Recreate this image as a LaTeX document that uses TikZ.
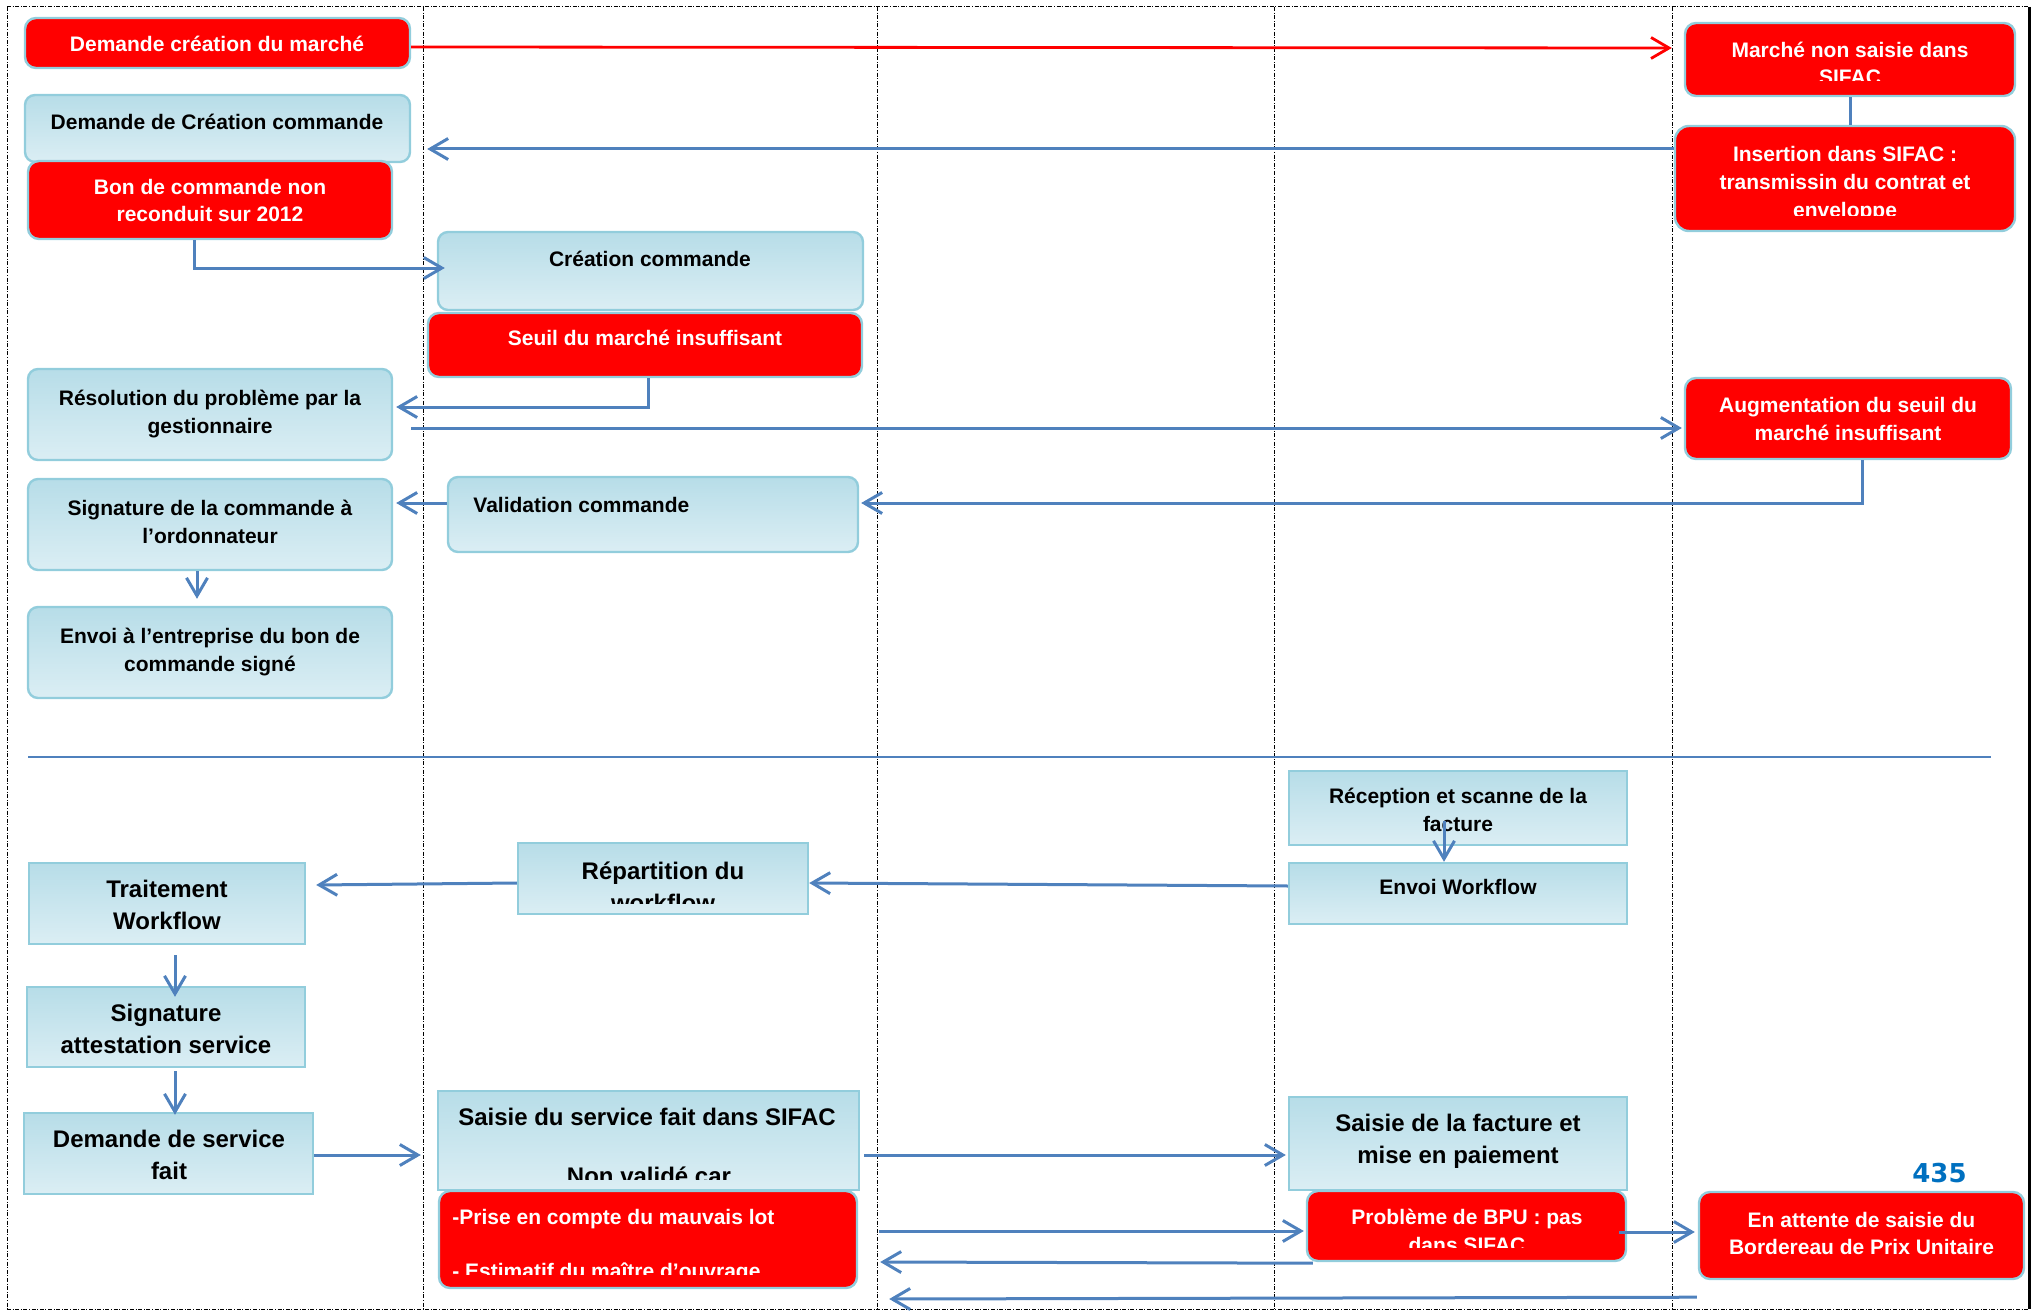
\documentclass[tikz,border=0pt]{standalone}
\usepackage{fontspec}
\setmainfont{Liberation Sans}
\newfontfamily\digitfont{DejaVu Sans}
\usetikzlibrary{arrows.meta,calc,fit}
\definecolor{lbtop}{RGB}{183,221,232}
\definecolor{lbbot}{RGB}{219,238,244}
\definecolor{bordblue}{RGB}{146,205,220}
\definecolor{boxred}{RGB}{255,0,0}
\definecolor{arrblue}{RGB}{79,129,189}
\definecolor{numblue}{RGB}{0,112,192}

\begin{document}
\begin{tikzpicture}[x=0.5pt,y=-0.5pt,
  lbbox/.style={draw=bordblue, line width=1.2pt, top color=lbtop, bottom color=lbbot, inner sep=0pt},
  lbround/.style={lbbox, rounded corners=5pt},
  redbox/.style={draw=bordblue, line width=1.2pt, fill=boxred, rounded corners=5.5pt, inner sep=0pt},
  tsm/.style={font=\bfseries\fontsize{10.5}{14}\selectfont, anchor=base, inner sep=0pt},
  tlg/.style={font=\bfseries\fontsize{12}{16}\selectfont, anchor=base, inner sep=0pt},
  wt/.style={text=white},
  arr/.style={draw=arrblue, line width=1.5pt, -{Straight Barb[length=9pt,width=10.5pt]}},
  conn/.style={draw=arrblue, line width=1.5pt},
  redarr/.style={draw=boxred, line width=1.4pt, -{Straight Barb[length=9pt,width=10.5pt]}},
  lane/.style={black, line width=0.5pt, dash pattern=on 2pt off 0.8pt on 0.5pt off 0.8pt},
]
\useasboundingbox (0,0) rectangle (2036,1311);

% frame and swim lanes
\draw[lane] (7,7) -- (2029,7);
\draw[lane] (7,1309) -- (2029,1309);
\draw[lane] (7,7) -- (7,1309);
\foreach \lx in {423,877,1274,1672} \draw[lane] (\lx,7) -- (\lx,1309);
\draw[black, line width=1.5pt] (2029,7) -- (2029,1309);

% separator between the two phases
\draw[arrblue, line width=1pt] (28,757) -- (1991,757);

% ---- boxes, upper phase
\node[redbox, fit={(25,18) (410,68)}] (b1) {};
\node[redbox, fit={(1685,23) (2015,96)}] (b2) {};
\node[redbox, rounded corners=7pt, fit={(1675,126) (2015,231)}] (b3) {};
\node[lbround, fit={(25,95) (410,162)}] (b4) {};
\node[redbox, fit={(28,161) (392,239)}] (b5) {};
\node[lbround, fit={(438,232) (863,310)}] (b6) {};
\node[redbox, fit={(428,313) (862,377)}] (b7) {};
\node[lbround, fit={(28,369) (392,460)}] (b8) {};
\node[redbox, fit={(1685,378) (2011,459)}] (b9) {};
\node[lbround, fit={(448,477) (858,552)}] (b10) {};
\node[lbround, fit={(28,479) (392,570)}] (b11) {};
\node[lbround, fit={(28,607) (392,698)}] (b12) {};

% ---- boxes, lower phase
\node[lbbox, fit={(1289,771) (1627,845)}] (b13) {};
\node[lbbox, fit={(1289,863) (1627,924)}] (b14) {};
\node[lbbox, fit={(518,843) (808,914)}] (b15) {};
\node[lbbox, fit={(29,863) (305,944)}] (b16) {};
\node[lbbox, fit={(27,987) (305,1067)}] (b17) {};
\node[lbbox, fit={(24,1113) (313,1194)}] (b18) {};
\node[lbbox, fit={(438,1091) (859,1190)}] (b19) {};
\node[redbox, fit={(439,1191) (857,1288)}] (b20) {};
\node[lbbox, fit={(1289,1097) (1627,1190)}] (b21) {};
\node[redbox, fit={(1307,1191) (1626,1261)}] (b22) {};
\node[redbox, fit={(1699,1192) (2024,1279)}] (b23) {};

% ---- texts, upper phase
\node[tsm,wt] (t1) at (217,51.5) {Demande création du marché};
\node[tsm,wt] (t2a) at (1850,58) {Marché non saisie dans};
\begin{scope}
  \clip (1685,23) rectangle (2015,81);
  \node[tsm,wt] (t2b) at (1850,85) {SIFAC};
\end{scope}
\node[tsm,wt] (t3a) at (1845,161.5) {Insertion dans SIFAC :};
\node[tsm,wt] (t3b) at (1845,189.5) {transmissin du contrat et};
\begin{scope}
  \clip (1675,126) rectangle (2015,215);
  \node[tsm,wt] (t3c) at (1845,218) {enveloppe};
\end{scope}
\node[tsm] (t4) at (217,129.5) {Demande de Création commande};
\node[tsm,wt] (t5a) at (210,194.5) {Bon de commande non};
\node[tsm,wt] (t5b) at (210,221.5) {reconduit sur 2012};
\node[tsm] (t6) at (650,266.5) {Création commande};
\node[tsm,wt] (t7) at (645,345.5) {Seuil du marché insuffisant};
\node[tsm] (t8a) at (210,405.5) {Résolution du problème par la};
\node[tsm] (t8b) at (210,433.5) {gestionnaire};
\node[tsm,wt] (t9a) at (1848,412) {Augmentation du seuil du};
\node[tsm,wt] (t9b) at (1848,440) {marché insuffisant};
\node[tsm,anchor=base west] (t10) at (473,512.5) {Validation commande};
\node[tsm] (t11a) at (210,515.5) {Signature de la commande à};
\node[tsm] (t11b) at (210,543.5) {l’ordonnateur};
\node[tsm] (t12a) at (210,643.5) {Envoi à l’entreprise du bon de};
\node[tsm] (t12b) at (210,671.5) {commande signé};

% ---- texts, lower phase
\node[tsm] (t13a) at (1458,803.5) {Réception et scanne de la};
\node[tsm] (t13b) at (1458,831.5) {facture};
\node[tsm] (t14) at (1458,894.5) {Envoi Workflow};
\node[tlg] (t15a) at (663,879) {Répartition du};
\begin{scope}
  \clip (518,843) rectangle (808,903);
  \node[tlg] (t15b) at (663,911) {workflow};
\end{scope}
\node[tlg] (t16a) at (167,897.5) {Traitement};
\node[tlg] (t16b) at (167,929.5) {Workflow};
\node[tlg] (t17a) at (166,1021.5) {Signature};
\node[tlg] (t17b) at (166,1053.5) {attestation service};
\node[tlg] (t18a) at (169,1147.5) {Demande de service};
\node[tlg] (t18b) at (169,1179.5) {fait};
\node[tlg] (t19a) at (647,1125.5) {Saisie du service fait dans SIFAC};
\begin{scope}
  \clip (438,1091) rectangle (859,1179);
  \node[tlg] (t19b) at (649,1184) {Non validé car};
\end{scope}
\node[tsm,wt,anchor=base west] (t20a) at (452,1224.5) {-Prise en compte du mauvais lot};
\begin{scope}
  \clip (439,1191) rectangle (857,1274);
  \node[tsm,wt,anchor=base west] (t20b) at (452,1278) {- Estimatif du maître d’ouvrage};
\end{scope}
\node[tlg] (t21a) at (1458,1131.5) {Saisie de la facture et};
\node[tlg] (t21b) at (1458,1163.5) {mise en paiement};
\node[tsm,wt] (t22a) at (1467,1224.5) {Problème de BPU : pas};
\begin{scope}
  \clip (1307,1191) rectangle (1626,1247);
  \node[tsm,wt] (t22b) at (1467,1252) {dans SIFAC};
\end{scope}
\node[tsm,wt] (t23a) at (1861.5,1227.5) {En attente de saisie du};
\node[tsm,wt] (t23b) at (1861.5,1254.5) {Bordereau de Prix Unitaire};
\node[font=\digitfont\bfseries\fontsize{13}{15}\selectfont, text=numblue, anchor=base, inner sep=0pt] (n435) at (1939.5,1182) {435};

% ---- connectors, upper phase
\draw[redarr] ($(b1.east)+(0,4)$) -- ($(b2.west)+(-12,-11.5)$);
\draw[conn] (b2.south) -- (b2.south |- b3.north);
\draw[arr] ($(b3.west)+(0,-29.5)$) -- ($(b4.east)+(16,20.5)$);
\draw[arr] ($(b5.south)+(-16,0)$) |- ($(b6.west)+(8,-3)$);
\draw[arr] ($(b7.south)+(3,0)$) |- ($(b8.east)+(3,-7.5)$);
\draw[arr] ($(b8.east)+(18,13.5)$) -- ($(b9.west)+(-2,9.5)$);
\draw[arr] ($(b9.south)+(14,0)$) |- ($(b10.east)+(2,-11.5)$);
\draw[arr] ($(b10.west)+(0,-11.5)$) -- ($(b11.east)+(3,-21.5)$);
\draw[arr] ($(b11.south)+(-13,0)$) -- ($(b12.north)+(-13,-7)$);

% ---- connectors, lower phase
\draw[arr] ($(b13.south)+(-14,-25)$) -- ($(b14.north)+(-14,0)$);
\draw[arr] ($(b14.west)+(0,-7.5)$) -- ($(b15.east)+(0,4.5)$);
\draw[arr] ($(b15.west)+(0,4.5)$) -- ($(b16.east)+(10,-18.5)$);
\draw[arr] ($(b16.south)+(8,10)$) -- ($(b17.north)+(9,11)$);
\draw[arr] ($(b17.south)+(9,3)$) -- ($(b18.north)+(6.5,3)$);
\draw[arr] ($(b18.east)+(0,1.5)$) -- ($(b19.west)+(-16,14.5)$);
\draw[arr] ($(b19.east)+(4,14.5)$) -- ($(b21.west)+(-2,11.5)$);
\coordinate (r1) at ($(b20.east)+(21,-8.5)$);
\coordinate (r2) at ($(b20.east)+(22,22.5)$);
\coordinate (r3) at ($(b20.east)+(31,59.5)$);
\draw[arr] (r1) -- ($(b22.west)+(-2,5)$);
\draw[arr] ($(b22.south west)+(7,1)$) -- (r2);
\draw[arr] ($(b23.south west)+(-1,17)$) -- (r3);
\draw[arr] ($(b22.east)+(-8,6)$) -- ($(b23.west)+(-3,-3.5)$);
\end{tikzpicture}
\end{document}
